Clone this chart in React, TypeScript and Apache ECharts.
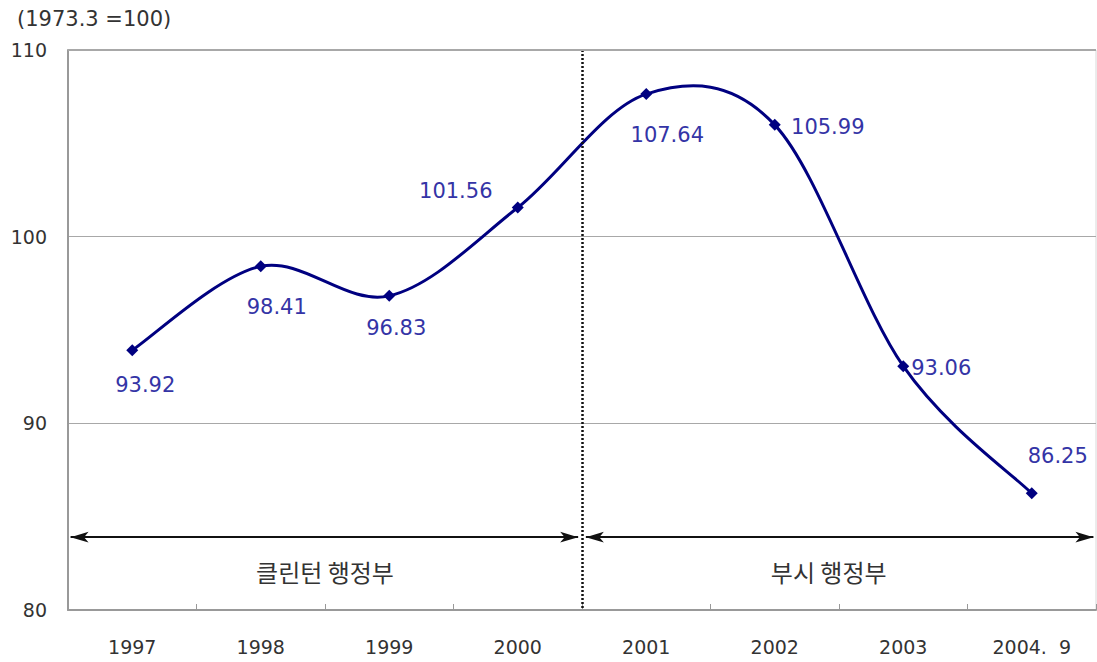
import React, { useEffect, useRef } from "react";
import * as echarts from "echarts";

const categories = ["1997", "1998", "1999", "2000", "2001", "2002", "2003", "2004.  9"];
const values = [93.92, 98.41, 96.83, 101.56, 107.64, 105.99, 93.06, 86.25];
const yTicks = { min: 80, max: 110, interval: 10 };
const unitLabel = "(1973.3 =100)";
const eras = [
  { name: "클린턴 행정부", from: 0.02, to: 3.97, textAt: 2.0 },
  { name: "부시 행정부", from: 4.03, to: 7.98, textAt: 5.92 },
];
const arrowLevel = 83.9;
const eraTextLevel = 82.05;
const dividerAt = 4;

// label offsets (presentation only)
const labelOffsets: [number, number][] = [
  [13, 35], [16, 41], [7, 32], [-62, -17], [21, 41], [53, 2], [38, 2], [26, -37],
];

const FONT = "'DejaVu Sans', Arial, 'Noto Sans CJK KR', sans-serif";
const KFONT = "'Noto Sans CJK KR', sans-serif";
const LINE_COLOR = "#000080";

function smoothPath(pts: number[][]): string {
  // Catmull-Rom style cubic Bezier through the points (spreadsheet-like smoothing)
  const n = pts.length;
  if (!n) return "";
  let d = `M${pts[0][0]},${pts[0][1]}`;
  for (let i = 0; i < n - 1; i++) {
    const p0 = pts[Math.max(0, i - 1)];
    const p1 = pts[i];
    const p2 = pts[i + 1];
    const p3 = pts[Math.min(n - 1, i + 2)];
    const c1x = p1[0] + (p2[0] - p0[0]) / 6;
    const c1y = p1[1] + (p2[1] - p0[1]) / 6;
    const c2x = p2[0] - (p3[0] - p1[0]) / 6;
    const c2y = p2[1] - (p3[1] - p1[1]) / 6;
    d += ` C${c1x},${c1y} ${c2x},${c2y} ${p2[0]},${p2[1]}`;
  }
  return d;
}

export default function App() {
  const ref = useRef<HTMLDivElement>(null);
  useEffect(() => {
    if (!ref.current) return;
    const chart = echarts.init(ref.current, undefined, { renderer: "svg" });
    const option: any = {
      animation: false,
      backgroundColor: "#ffffff",
      textStyle: { fontFamily: FONT },
      graphic: [
        {
          type: "text",
          left: 17,
          top: 8,
          style: { text: unitLabel, fontSize: 21, fill: "#333", fontFamily: FONT },
        },
      ],
      grid: {
        left: 68,
        right: 1,
        top: 50,
        bottom: 52,
        show: true,
        borderColor: "#d8d8d8",
        borderWidth: 1,
      },
      xAxis: [
        {
          type: "category",
          data: categories,
          boundaryGap: true,
          axisLine: { show: true, lineStyle: { color: "#999", width: 2 } },
          axisTick: { show: true, inside: true, length: 6, lineStyle: { color: "#999" } },
          axisLabel: { color: "#333", fontSize: 19, margin: 27, fontFamily: FONT },
          splitLine: { show: false },
        },
        {
          type: "value",
          min: 0,
          max: 8,
          show: false,
          position: "bottom",
        },
      ],
      yAxis: {
        type: "value",
        min: yTicks.min,
        max: yTicks.max,
        interval: yTicks.interval,
        axisLine: { show: true, lineStyle: { color: "#999", width: 2 } },
        axisTick: { show: false },
        axisLabel: { color: "#333", fontSize: 19, margin: 21, fontFamily: FONT },
        splitLine: { show: true, lineStyle: { color: "#a8a8a8", width: 1 } },
      },
      series: [
        {
          type: "custom",
          coordinateSystem: "cartesian2d",
          xAxisIndex: 0,
          yAxisIndex: 0,
          data: values.map((v, i) => [i, v]),
          silent: true,
          z: 4,
          renderItem: (params: any, api: any) => {
            if (params.dataIndex !== 0) return null;
            const pts = values.map((v, i) => api.coord([i, v]));
            return {
              type: "path",
              shape: { pathData: smoothPath(pts) },
              style: { stroke: LINE_COLOR, lineWidth: 3, fill: "none" },
            };
          },
        },
        {
          type: "line",
          data: values.map((v, i) => ({
            value: v,
            label: { offset: labelOffsets[i] },
          })),
          smooth: false,
          symbol: "diamond",
          symbolSize: 12,
          itemStyle: { color: LINE_COLOR },
          lineStyle: { color: LINE_COLOR, width: 0, opacity: 0 },
          label: {
            show: true,
            position: "inside",
            color: "#3434a6",
            fontSize: 21,
            fontFamily: FONT,
            formatter: (p: any) => p.value.toFixed(2),
          },
          z: 5,
        },
        {
          type: "scatter",
          xAxisIndex: 1,
          data: [],
          silent: true,
          markLine: {
            silent: true,
            animation: false,
            label: { show: false },
            data: [
              ...eras.map((e) => [
                { coord: [e.from, arrowLevel], symbol: "arrow" },
                { coord: [e.to, arrowLevel], symbol: "arrow" },
              ]),
            ],
            symbolSize: [8, 18],
            lineStyle: { color: "#111", width: 2, type: "solid" },
          },
          markPoint: {
            silent: true,
            symbol: "circle",
            symbolSize: 0,
            data: eras.map((e) => ({
              coord: [e.textAt, eraTextLevel],
              label: {
                show: true,
                formatter: e.name,
                position: "inside",
                color: "#333",
                fontSize: 24,
                fontFamily: KFONT,
              },
            })),
          },
        },
        {
          type: "scatter",
          xAxisIndex: 1,
          data: [],
          silent: true,
          markLine: {
            silent: true,
            animation: false,
            symbol: "none",
            label: { show: false },
            data: [[{ coord: [dividerAt, yTicks.max] }, { coord: [dividerAt, yTicks.min] }]],
            lineStyle: { color: "#111", width: 2.5, type: [2, 2] },
          },
        },
        {
          type: "scatter",
          xAxisIndex: 1,
          data: [],
          silent: true,
          z: 1,
          markLine: {
            silent: true,
            animation: false,
            symbol: "none",
            label: { show: false },
            data: [[{ coord: [0, yTicks.max] }, { coord: [8, yTicks.max] }]],
            lineStyle: { color: "#a8a8a8", width: 2, type: "solid" },
          },
        },
      ],
    };
    chart.setOption(option);
    return () => chart.dispose();
  }, []);
  return (
    <div
      ref={ref}
      style={{ position: "fixed", left: 0, top: 0, width: 1097, height: 662 }}
    />
  );
}
